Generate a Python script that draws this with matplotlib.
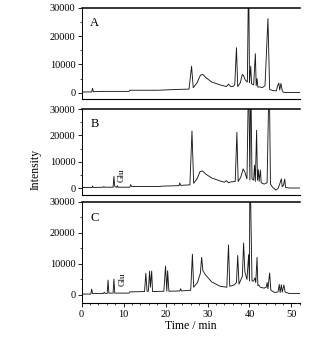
import numpy as np
import matplotlib
matplotlib.use('Agg')
import matplotlib.pyplot as plt
from matplotlib.ticker import MultipleLocator

plt.rcParams['font.family'] = 'Liberation Serif'

# chromatogram traces: (time min, intensity)
trace_a = [(0, 300), (2.4, 300), (2.6, 1600), (2.8, 400), (5, 500), (11.3, 500), (11.5, 900),
           (18, 900), (23, 1200), (25.6, 1300), (26.2, 9400), (26.6, 1800), (27.5, 3500),
           (28.3, 6200), (28.9, 6500), (29.5, 5500), (31, 3800), (33, 2800), (34.5, 2200),
           (35, 3100), (35.5, 2200), (36.2, 2300), (36.5, 3000), (36.9, 15900), (37.2, 2200),
           (37.8, 3500), (38.3, 6500), (38.6, 6000), (39.0, 4500), (39.5, 3800), (39.8, 45000),
           (40.0, 3500), (40.3, 9400), (40.5, 3200), (40.7, 3000), (41.0, 2800), (41.4, 13800),
           (41.6, 2500), (41.8, 5000), (42.0, 2000), (42.5, 2100), (43.0, 1800), (43.7, 2500),
           (44.4, 26200), (44.8, 1200), (45.5, 800), (46.4, 700), (46.7, 2500), (47.0, 3400),
           (47.2, 1000), (47.5, 3300), (47.8, 800), (48.0, 300), (48.3, 100), (49, 100), (52, 100)]

trace_b = [(0, 200), (2.5, 200), (2.6, 800), (2.8, 200), (5.2, 300), (5.3, 600), (5.5, 300),
           (7.5, 300), (7.7, 4400), (7.9, 500), (8.4, 300), (8.5, 900), (8.7, 300), (11.5, 300),
           (11.7, 1300), (11.9, 600), (18.8, 600), (19.0, 700), (23.2, 900), (23.4, 1900),
           (23.6, 1000), (25.8, 1200), (26.3, 21700), (26.7, 1800), (27.5, 3500), (28.2, 6200),
           (28.8, 6500), (29.5, 5400), (31, 3800), (33, 2700), (34, 2200), (34.5, 2800),
           (35, 2000), (35.5, 2300), (36, 2400), (36.6, 2500), (37.0, 21200), (37.3, 2500),
           (37.9, 4000), (38.5, 7300), (38.9, 6000), (39.4, 3500), (39.8, 45000), (40.1, 3000),
           (40.3, 45000), (40.6, 3500), (41.0, 3000), (41.2, 8700), (41.4, 2500), (41.7, 22000),
           (41.9, 3000), (42.1, 7000), (42.3, 2500), (42.6, 6800), (42.8, 2000), (43.5, 1500),
           (44.2, 2000), (44.7, 45000), (45.0, 1500), (45.5, 300), (46.3, -800), (46.8, -200),
           (47.2, 1500), (47.6, 3500), (47.8, 500), (48.1, 1000), (48.4, 3400), (48.6, 200),
           (49.5, 0), (52, 0)]

trace_c = [(0, 300), (2.2, 300), (2.4, 1900), (2.6, 500), (5.2, 500), (5.4, 900), (5.6, 500),
           (6.1, 500), (6.3, 4800), (6.5, 600), (7.5, 600), (7.7, 5100), (7.9, 600), (11.3, 600),
           (11.5, 1000), (15.0, 1100), (15.3, 7000), (15.6, 1200), (15.9, 1200), (16.2, 7700),
           (16.4, 2500), (16.7, 7700), (16.9, 1100), (19.6, 1200), (20.0, 9300), (20.3, 1200),
           (20.5, 7800), (20.8, 1200), (23.4, 1300), (23.6, 2000), (23.8, 1300), (26.0, 1500),
           (26.4, 13100), (26.7, 2500), (27.6, 4000), (28.3, 7000), (28.6, 12100), (28.9, 7800),
           (29.5, 6500), (31, 4200), (33, 2800), (34.6, 2500), (35.0, 16100), (35.3, 2800),
           (36.3, 3200), (36.9, 4000), (37.2, 12700), (37.5, 3500), (38.3, 6000), (38.6, 16700),
           (38.9, 7500), (39.4, 5000), (39.8, 13000), (40.0, 4500), (40.1, 45000), (40.6, 4500),
           (41.0, 4500), (41.3, 5500), (41.5, 4000), (41.8, 12100), (42.0, 3000), (42.2, 3200),
           (42.6, 2500), (43.5, 2200), (44.0, 2500), (44.2, 4000), (44.4, 2000), (44.8, 7100),
           (45.1, 1500), (46.0, 800), (46.8, 1000), (47.1, 3400), (47.3, 800), (47.6, 3300),
           (47.8, 900), (48.2, 3200), (48.5, 900), (49.5, 500), (52, 500)]

panel_labels = ['A', 'B', 'C']
glu_pos = [None, (9.5, 5000), (9.8, 5100)]
x_ticks = [0, 10, 20, 30, 40, 50]
y_ticks = [0, 10000, 20000, 30000]

fig = plt.figure(figsize=(3.2, 3.39), dpi=100)

# axes boxes (left, bottom, width, height) in figure fractions
boxes = [[0.255, 0.707, 0.682, 0.270],
         [0.255, 0.426, 0.682, 0.252],
         [0.255, 0.106, 0.682, 0.299]]
lows = [-2300, -2500, -2600]

for i, tr in enumerate([trace_a, trace_b, trace_c]):
    ax = fig.add_axes(boxes[i])
    t, y = np.array(tr).T
    ax.plot(t, y, color='#1a1a1a', lw=0.65)
    ax.set_xlim(0, 52)
    ax.set_ylim(lows[i], 30000)
    ax.spines['right'].set_visible(False)
    ax.spines['top'].set_linewidth(1.1)
    ax.spines['left'].set_linewidth(0.7)
    ax.spines['bottom'].set_linewidth(0.8)
    ax.set_yticks(y_ticks)
    ax.yaxis.set_minor_locator(MultipleLocator(5000))
    ax.tick_params(axis='y', which='major', direction='out', length=3, width=0.6,
                   labelsize=7.5, pad=1.5)
    ax.tick_params(axis='y', which='minor', direction='out', length=1.5, width=0.5)
    ax.text(0.04, 0.9, panel_labels[i], transform=ax.transAxes, fontsize=9,
            ha='left', va='top')
    if glu_pos[i] is not None:
        ax.text(glu_pos[i][0], glu_pos[i][1], 'Glu', rotation=90, fontsize=6.5,
                ha='center', va='center')
    if i < 2:
        ax.set_xticks([])
    else:
        ax.set_xticks(x_ticks)
        ax.xaxis.set_minor_locator(MultipleLocator(2))
        ax.tick_params(axis='x', which='major', direction='out', length=3, width=0.6,
                       labelsize=7.5, pad=2)
        ax.tick_params(axis='x', which='minor', direction='out', length=1.5, width=0.5)
        ax.set_xlabel('Time / min', fontsize=8.5, labelpad=1)

fig.text(0.11, 0.5, 'Intensity', rotation=90, fontsize=8.5, ha='center', va='center')

fig.savefig('out.png', dpi=100)
